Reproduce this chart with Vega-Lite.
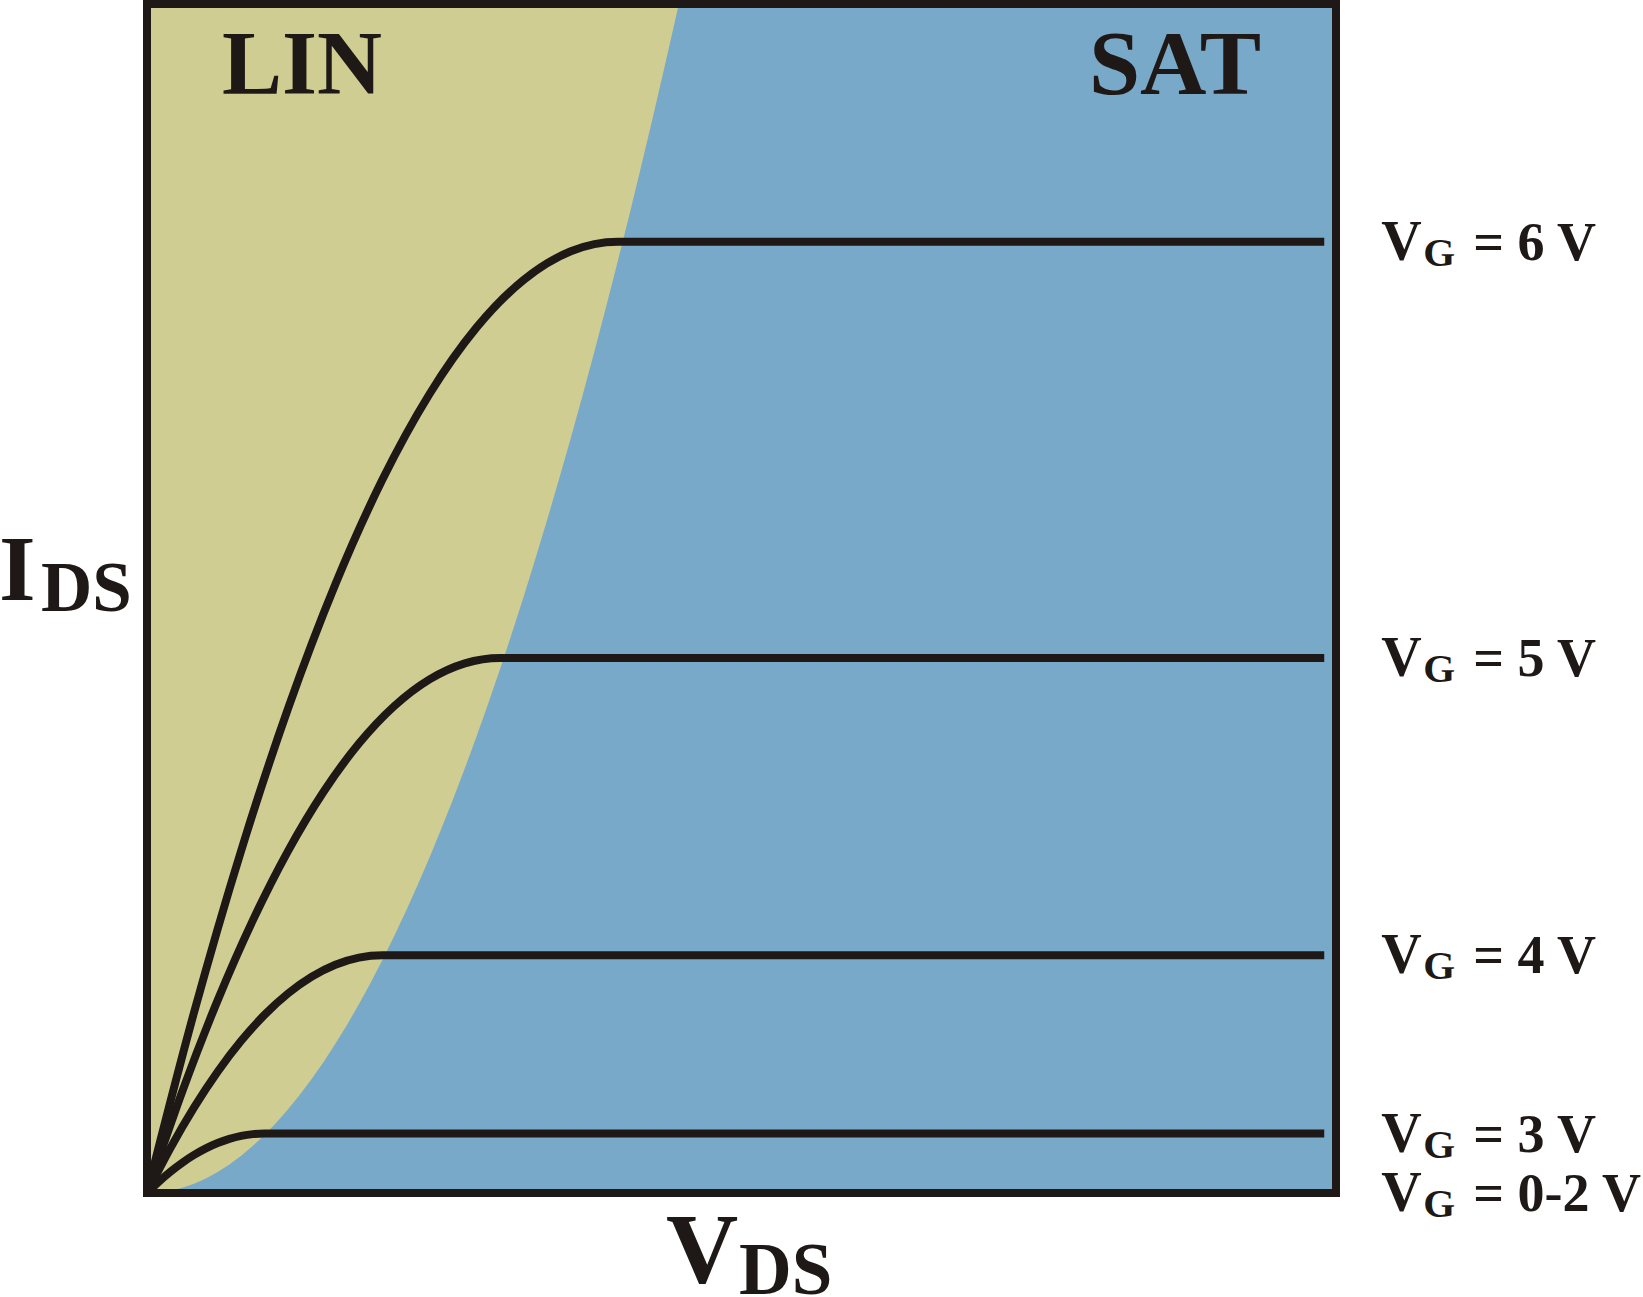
{
"$schema": "https://vega.github.io/schema/vega-lite/v6.json",
"width": 1189,
"height": 1189,
"autosize": {"type": "none"},
"padding": {"left": 147, "top": 4, "right": 307, "bottom": 104},
"background": "white",
"config": {"view": {"fill": "#CFCD91", "stroke": null}, "text": {"font": "Liberation Serif", "fontWeight": "bold", "color": "#1E1917"}},
"datasets": {
"curves": [
{"vg":"3","vds":0,"ids":0},{"vg":"3","vds":0.1,"ids":0.19},{"vg":"3","vds":0.2,"ids":0.36},{"vg":"3","vds":0.3,"ids":0.51},{"vg":"3","vds":0.4,"ids":0.64},{"vg":"3","vds":0.5,"ids":0.75},{"vg":"3","vds":0.6,"ids":0.84},{"vg":"3","vds":0.7,"ids":0.91},{"vg":"3","vds":0.8,"ids":0.96},{"vg":"3","vds":0.9,"ids":0.99},{"vg":"3","vds":1.0,"ids":1.0},{"vg":"3","vds":10,"ids":1.0},
{"vg":"4","vds":0,"ids":0},{"vg":"4","vds":0.2,"ids":0.76},{"vg":"4","vds":0.4,"ids":1.44},{"vg":"4","vds":0.6,"ids":2.04},{"vg":"4","vds":0.8,"ids":2.56},{"vg":"4","vds":1.0,"ids":3.0},{"vg":"4","vds":1.2,"ids":3.36},{"vg":"4","vds":1.4,"ids":3.64},{"vg":"4","vds":1.6,"ids":3.84},{"vg":"4","vds":1.8,"ids":3.96},{"vg":"4","vds":2.0,"ids":4.0},{"vg":"4","vds":10,"ids":4.0},
{"vg":"5","vds":0,"ids":0},{"vg":"5","vds":0.3,"ids":1.71},{"vg":"5","vds":0.6,"ids":3.24},{"vg":"5","vds":0.9,"ids":4.59},{"vg":"5","vds":1.2,"ids":5.76},{"vg":"5","vds":1.5,"ids":6.75},{"vg":"5","vds":1.8,"ids":7.56},{"vg":"5","vds":2.1,"ids":8.19},{"vg":"5","vds":2.4,"ids":8.64},{"vg":"5","vds":2.7,"ids":8.91},{"vg":"5","vds":3.0,"ids":9.0},{"vg":"5","vds":10,"ids":9.0},
{"vg":"6","vds":0,"ids":0},{"vg":"6","vds":0.4,"ids":3.04},{"vg":"6","vds":0.8,"ids":5.76},{"vg":"6","vds":1.2,"ids":8.16},{"vg":"6","vds":1.6,"ids":10.24},{"vg":"6","vds":2.0,"ids":12.0},{"vg":"6","vds":2.4,"ids":13.44},{"vg":"6","vds":2.8,"ids":14.56},{"vg":"6","vds":3.2,"ids":15.36},{"vg":"6","vds":3.6,"ids":15.84},{"vg":"6","vds":4.0,"ids":16.0},{"vg":"6","vds":10,"ids":16.0}
],
"boundary": [
{"vds":0,"ids":0},{"vds":0.1,"ids":0.0098},{"vds":0.2,"ids":0.0392},{"vds":0.3,"ids":0.0882},{"vds":0.4,"ids":0.1568},{"vds":0.5,"ids":0.245},{"vds":0.6,"ids":0.3528},{"vds":0.7,"ids":0.4802},{"vds":0.8,"ids":0.6272},{"vds":0.9,"ids":0.7938},{"vds":1.0,"ids":0.98},
{"vds":1.1,"ids":1.1858},{"vds":1.2,"ids":1.4112},{"vds":1.3,"ids":1.6562},{"vds":1.4,"ids":1.9208},{"vds":1.5,"ids":2.205},{"vds":1.6,"ids":2.5088},{"vds":1.7,"ids":2.8322},{"vds":1.8,"ids":3.1752},{"vds":1.9,"ids":3.5378},{"vds":2.0,"ids":3.92},
{"vds":2.1,"ids":4.3218},{"vds":2.2,"ids":4.7432},{"vds":2.3,"ids":5.1842},{"vds":2.4,"ids":5.6448},{"vds":2.5,"ids":6.125},{"vds":2.6,"ids":6.6248},{"vds":2.7,"ids":7.1442},{"vds":2.8,"ids":7.6832},{"vds":2.9,"ids":8.2418},{"vds":3.0,"ids":8.82},
{"vds":3.1,"ids":9.4178},{"vds":3.2,"ids":10.0352},{"vds":3.3,"ids":10.6722},{"vds":3.4,"ids":11.3288},{"vds":3.5,"ids":12.005},{"vds":3.6,"ids":12.7008},{"vds":3.7,"ids":13.4162},{"vds":3.8,"ids":14.1512},{"vds":3.9,"ids":14.9058},{"vds":4.0,"ids":15.68},
{"vds":4.1,"ids":16.4738},{"vds":4.2,"ids":17.2872},{"vds":4.3,"ids":18.1202},{"vds":4.4,"ids":18.9728},{"vds":4.5,"ids":19.845},{"vds":4.518,"ids":20.0},{"vds":10.1,"ids":20.0}
],
"labels": [
{"vg":"6","ids":16,"label":"= 6 V"},{"vg":"5","ids":9,"label":"= 5 V"},{"vg":"4","ids":4,"label":"= 4 V"},{"vg":"3","ids":1,"label":"= 3 V"},{"vg":"0-2","ids":0,"label":"= 0-2 V"}
]
},
"layer": [
{"data": {"name": "boundary"},
 "mark": {"type": "area", "color": "#78A9C8", "interpolate": "linear", "clip": true},
 "encoding": {
  "x": {"field": "vds", "type": "quantitative", "scale": {"domain": [0, 10.1], "nice": false, "zero": false}, "axis": null},
  "y": {"field": "ids", "type": "quantitative", "scale": {"domain": [0, 20], "nice": false, "zero": false}, "axis": null}
 }},
{"data": {"name": "curves"},
 "mark": {"type": "line", "color": "#1E1917", "strokeWidth": 8, "strokeCap": "butt", "interpolate": "monotone"},
 "encoding": {
  "x": {"field": "vds", "type": "quantitative", "scale": {"domain": [0, 10.1], "nice": false, "zero": false}, "axis": null},
  "y": {"field": "ids", "type": "quantitative", "scale": {"domain": [0, 20], "nice": false, "zero": false}, "axis": null},
  "detail": {"field": "vg"}
 }},
{"data": {"values": [{}]},
 "mark": {"type": "rect", "filled": false, "stroke": "#1E1917", "strokeWidth": 8},
 "encoding": {
  "x": {"datum": 0, "type": "quantitative", "scale": {"domain": [0, 10.1], "nice": false, "zero": false}, "axis": null},
  "x2": {"datum": 10.1},
  "y": {"datum": 0, "type": "quantitative", "scale": {"domain": [0, 20], "nice": false, "zero": false}, "axis": null},
  "y2": {"datum": 20}
 }},
{"data": {"name": "labels"},
 "mark": {"type": "text", "fontSize": 56, "align": "left", "baseline": "alphabetic", "dx": 57, "dy": 18},
 "encoding": {
  "x": {"datum": 10, "type": "quantitative", "scale": {"domain": [0, 10.1], "nice": false, "zero": false}, "axis": null},
  "y": {"field": "ids", "type": "quantitative", "scale": {"domain": [0, 20], "nice": false, "zero": false}, "axis": null},
  "text": {"value": "V"}
 }},
{"data": {"name": "labels"},
 "mark": {"type": "text", "fontSize": 41, "align": "left", "baseline": "alphabetic", "dx": 99, "dy": 24},
 "encoding": {
  "x": {"datum": 10, "type": "quantitative", "scale": {"domain": [0, 10.1], "nice": false, "zero": false}, "axis": null},
  "y": {"field": "ids", "type": "quantitative", "scale": {"domain": [0, 20], "nice": false, "zero": false}, "axis": null},
  "text": {"value": "G"}
 }},
{"data": {"name": "labels"},
 "mark": {"type": "text", "fontSize": 54, "align": "left", "baseline": "alphabetic", "dx": 149, "dy": 18},
 "encoding": {
  "x": {"datum": 10, "type": "quantitative", "scale": {"domain": [0, 10.1], "nice": false, "zero": false}, "axis": null},
  "y": {"field": "ids", "type": "quantitative", "scale": {"domain": [0, 20], "nice": false, "zero": false}, "axis": null},
  "text": {"field": "label"}
 }},
{"data": {"values": [{}]},
 "mark": {"type": "text", "fontSize": 90, "align": "left", "baseline": "alphabetic", "dx": 75, "dy": 90},
 "encoding": {
  "x": {"datum": 0, "type": "quantitative", "scale": {"domain": [0, 10.1], "nice": false, "zero": false}, "axis": null},
  "y": {"datum": 20, "type": "quantitative", "scale": {"domain": [0, 20], "nice": false, "zero": false}, "axis": null},
  "text": {"value": "LIN"}
 }},
{"data": {"values": [{}]},
 "mark": {"type": "text", "fontSize": 92, "align": "center", "baseline": "alphabetic", "dx": -161, "dy": 90},
 "encoding": {
  "x": {"datum": 10.1, "type": "quantitative", "scale": {"domain": [0, 10.1], "nice": false, "zero": false}, "axis": null},
  "y": {"datum": 20, "type": "quantitative", "scale": {"domain": [0, 20], "nice": false, "zero": false}, "axis": null},
  "text": {"value": "SAT"}
 }},
{"data": {"values": [{}]},
 "mark": {"type": "text", "fontSize": 94, "align": "left", "baseline": "alphabetic", "dx": -148, "dy": 1},
 "encoding": {
  "x": {"datum": 0, "type": "quantitative", "scale": {"domain": [0, 10.1], "nice": false, "zero": false}, "axis": null},
  "y": {"datum": 10, "type": "quantitative", "scale": {"domain": [0, 20], "nice": false, "zero": false}, "axis": null},
  "text": {"value": "I"}
 }},
{"data": {"values": [{}]},
 "mark": {"type": "text", "fontSize": 71, "align": "left", "baseline": "alphabetic", "dx": -106, "dy": 12},
 "encoding": {
  "x": {"datum": 0, "type": "quantitative", "scale": {"domain": [0, 10.1], "nice": false, "zero": false}, "axis": null},
  "y": {"datum": 10, "type": "quantitative", "scale": {"domain": [0, 20], "nice": false, "zero": false}, "axis": null},
  "text": {"value": "DS"}
 }},
{"data": {"values": [{}]},
 "mark": {"type": "text", "fontSize": 100, "align": "left", "baseline": "alphabetic", "dx": 519, "dy": 89},
 "encoding": {
  "x": {"datum": 0, "type": "quantitative", "scale": {"domain": [0, 10.1], "nice": false, "zero": false}, "axis": null},
  "y": {"datum": 0, "type": "quantitative", "scale": {"domain": [0, 20], "nice": false, "zero": false}, "axis": null},
  "text": {"value": "V"}
 }},
{"data": {"values": [{}]},
 "mark": {"type": "text", "fontSize": 73, "align": "left", "baseline": "alphabetic", "dx": 592, "dy": 101},
 "encoding": {
  "x": {"datum": 0, "type": "quantitative", "scale": {"domain": [0, 10.1], "nice": false, "zero": false}, "axis": null},
  "y": {"datum": 0, "type": "quantitative", "scale": {"domain": [0, 20], "nice": false, "zero": false}, "axis": null},
  "text": {"value": "DS"}
 }}
]
}
